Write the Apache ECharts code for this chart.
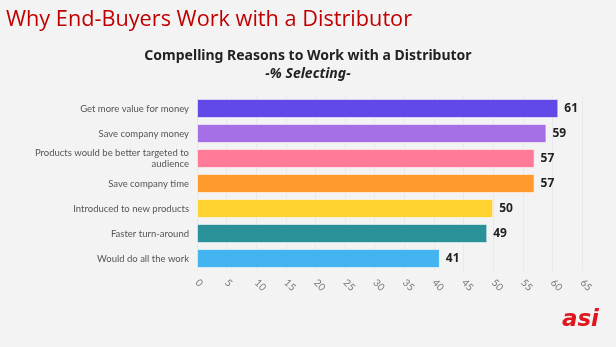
<!DOCTYPE html>
<html>
<head>
<meta charset="utf-8">
<script src="https://cdn.jsdelivr.net/npm/echarts@6/dist/echarts.min.js"></script>
<style>
  html, body { margin: 0; padding: 0; background: #f3f3f3; }
  #chart { width: 616px; height: 347px; }
</style>
</head>
<body>
<div id="chart"></div>
<script>
// Reasons, top to bottom
const reasons = [
  'Get more value for money',
  'Save company money',
  'Products would be better targeted to\naudience',
  'Save company time',
  'Introduced to new products',
  'Faster turn-around',
  'Would do all the work'
];
const percentSelecting = [61, 59, 57, 57, 50, 49, 41];
const barColors = ['#6049e6', '#a570e6', '#ff7b98', '#ff9a2d', '#ffd22f', '#2b9199', '#43b4ef'];
const axisMax = 65;
const axisStep = 5;

const chart = echarts.init(document.getElementById('chart'));

chart.setOption({
  backgroundColor: '#f3f3f3',
  animation: false,
  title: [
    {
      text: 'Why End-Buyers Work with a Distributor',
      left: 1, top: 4,
      textStyle: { color: '#c00000', fontSize: 21.7, fontWeight: 'normal', fontFamily: 'Open Sans' }
    },
    {
      text: 'Compelling Reasons to Work with a Distributor',
      left: 'center', top: 44,
      textStyle: { color: '#222', fontSize: 14, fontWeight: 'bold', fontFamily: 'Noto Sans' }
    },
    {
      text: '-% Selecting-',
      left: 'center', top: 62,
      textStyle: { color: '#222', fontSize: 14, fontWeight: 'bold', fontStyle: 'italic', fontFamily: 'Noto Sans' }
    }
  ],
  grid: { left: 197, right: 34, top: 96, height: 175, containLabel: false },
  xAxis: {
    type: 'value',
    min: 0, max: axisMax, interval: axisStep,
    axisLine: { show: false },
    axisTick: { show: false },
    splitLine: { show: true, lineStyle: { color: '#e9e9e9', width: 1 } },
    axisLabel: {
      rotate: -45, color: '#777', fontSize: 10, fontFamily: 'Lato', margin: 10
    }
  },
  yAxis: {
    type: 'category',
    data: reasons,
    inverse: true,
    axisLine: { show: false },
    axisTick: { show: false },
    axisLabel: {
      color: '#555', fontSize: 9.5, fontFamily: 'Lato', margin: 8, lineHeight: 11, align: 'right'
    }
  },
  series: [{
    type: 'bar',
    data: percentSelecting.map((v, i) => ({
      value: v,
      itemStyle: { color: barColors[i], borderColor: 'rgba(255,255,255,0.55)', borderWidth: 1 }
    })),
    barCategoryGap: '24%',
    label: {
      show: true, position: 'right', distance: 6,
      color: '#222', fontSize: 12, fontWeight: 'bold', fontFamily: 'Noto Sans'
    }
  }],
  graphic: [{
    type: 'text',
    right: 17, bottom: 15,
    style: {
      text: 'asi', fill: '#e0161e', fontSize: 23, fontWeight: 900,
      fontStyle: 'italic', fontFamily: 'DejaVu Sans'
    }
  }]
});
</script>
</body>
</html>
